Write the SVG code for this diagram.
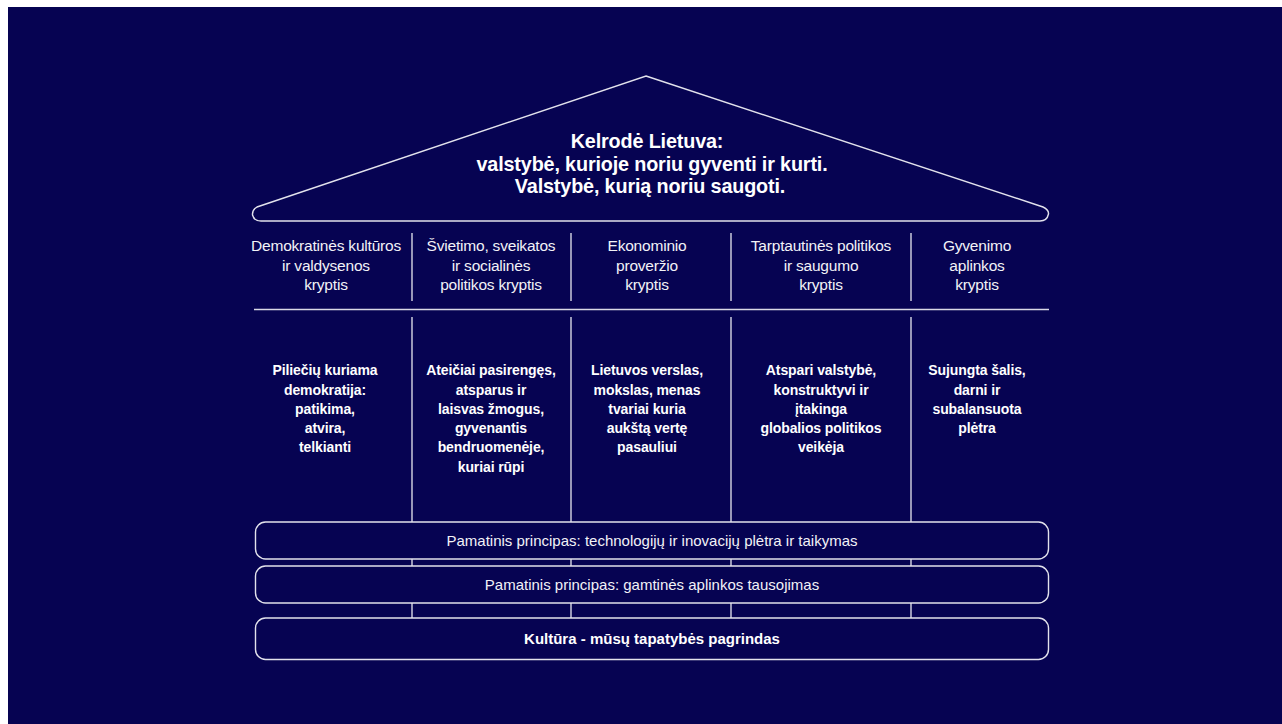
<svg xmlns="http://www.w3.org/2000/svg" width="1282" height="724" viewBox="0 0 1282 724">
<style>
.ln{stroke:#d9d9e6;stroke-width:1.4;fill:none}
.box{stroke:#e2e2ec;stroke-width:1.4;fill:none}
.t{font-family:"Liberation Sans",Arial,sans-serif;fill:#ffffff;text-anchor:middle}
.title{font-size:19.8px;font-weight:bold;letter-spacing:-0.15px}
.hd{font-size:15.5px;letter-spacing:-0.2px;fill:#f2f2f7}
.bd{font-size:14px;font-weight:bold;letter-spacing:-0.1px}
.bx{font-size:15px;fill:#f2f2f7}
.bxb{font-size:15px;font-weight:bold}
</style>
<rect x="0" y="0" width="1282" height="724" fill="#ffffff"/>
<rect x="8" y="7" width="1274" height="717" fill="#060352"/>
<g id="roof">
<path class="box" d="M646 76 L1043 207 Q1049 210 1048.5 214 Q1047 221 1040 221 L261 221 Q254 221 252.5 215 Q252 210 257 207 Z"/>
<text class="t title" x="647" y="148">Kelrodė Lietuva:</text>
<text class="t title" x="652" y="171">valstybė, kurioje noriu gyventi ir kurti.</text>
<text class="t title" x="650" y="193">Valstybė, kurią noriu saugoti.</text>
</g>
<g id="connectors">
<line class="ln" x1="412" y1="233" x2="412" y2="301"/>
<line class="ln" x1="571" y1="233" x2="571" y2="301"/>
<line class="ln" x1="731" y1="233" x2="731" y2="301"/>
<line class="ln" x1="911" y1="233" x2="911" y2="301"/>
<line class="ln" x1="254" y1="309.5" x2="1049" y2="309.5"/>
<line class="ln" x1="412" y1="317" x2="412" y2="522"/>
<line class="ln" x1="571" y1="317" x2="571" y2="522"/>
<line class="ln" x1="731" y1="317" x2="731" y2="522"/>
<line class="ln" x1="911" y1="317" x2="911" y2="522"/>
<line class="ln" x1="412" y1="559" x2="412" y2="566"/>
<line class="ln" x1="571" y1="559" x2="571" y2="566"/>
<line class="ln" x1="731" y1="559" x2="731" y2="566"/>
<line class="ln" x1="911" y1="559" x2="911" y2="566"/>
<line class="ln" x1="412" y1="603" x2="412" y2="618"/>
<line class="ln" x1="571" y1="603" x2="571" y2="618"/>
<line class="ln" x1="731" y1="603" x2="731" y2="618"/>
<line class="ln" x1="911" y1="603" x2="911" y2="618"/>
</g>
<g id="col1">
<text class="t hd" x="326" y="251">Demokratinės kultūros</text>
<text class="t hd" x="326" y="271">ir valdysenos</text>
<text class="t hd" x="326" y="290">kryptis</text>
<text class="t bd" x="325" y="375">Piliečių kuriama</text>
<text class="t bd" x="325" y="394.5">demokratija:</text>
<text class="t bd" x="325" y="414">patikima,</text>
<text class="t bd" x="325" y="433">atvira,</text>
<text class="t bd" x="325" y="452">telkianti</text>
</g>
<g id="col2">
<text class="t hd" x="491" y="251">Švietimo, sveikatos</text>
<text class="t hd" x="491" y="271">ir socialinės</text>
<text class="t hd" x="491" y="290">politikos kryptis</text>
<text class="t bd" x="491" y="375">Ateičiai pasirengęs,</text>
<text class="t bd" x="491" y="394.5">atsparus ir</text>
<text class="t bd" x="491" y="414">laisvas žmogus,</text>
<text class="t bd" x="491" y="433">gyvenantis</text>
<text class="t bd" x="491" y="452">bendruomenėje,</text>
<text class="t bd" x="491" y="471.5">kuriai rūpi</text>
</g>
<g id="col3">
<text class="t hd" x="647" y="251">Ekonominio</text>
<text class="t hd" x="647" y="271">proveržio</text>
<text class="t hd" x="647" y="290">kryptis</text>
<text class="t bd" x="647" y="375">Lietuvos verslas,</text>
<text class="t bd" x="647" y="394.5">mokslas, menas</text>
<text class="t bd" x="647" y="414">tvariai kuria</text>
<text class="t bd" x="647" y="433">aukštą vertę</text>
<text class="t bd" x="647" y="452">pasauliui</text>
</g>
<g id="col4">
<text class="t hd" x="821" y="251">Tarptautinės politikos</text>
<text class="t hd" x="821" y="271">ir saugumo</text>
<text class="t hd" x="821" y="290">kryptis</text>
<text class="t bd" x="821" y="375">Atspari valstybė,</text>
<text class="t bd" x="821" y="394.5">konstruktyvi ir</text>
<text class="t bd" x="821" y="414">įtakinga</text>
<text class="t bd" x="821" y="433">globalios politikos</text>
<text class="t bd" x="821" y="452">veikėja</text>
</g>
<g id="col5">
<text class="t hd" x="977" y="251">Gyvenimo</text>
<text class="t hd" x="977" y="271">aplinkos</text>
<text class="t hd" x="977" y="290">kryptis</text>
<text class="t bd" x="977" y="375">Sujungta šalis,</text>
<text class="t bd" x="977" y="394.5">darni ir</text>
<text class="t bd" x="977" y="414">subalansuota</text>
<text class="t bd" x="977" y="433">plėtra</text>
</g>
<g id="base1">
<rect class="box" x="255.5" y="522" width="793" height="37" rx="10"/>
<text class="t bx" x="652" y="545.5">Pamatinis principas: technologijų ir inovacijų plėtra ir taikymas</text>
</g>
<g id="base2">
<rect class="box" x="255.5" y="566" width="793" height="37" rx="10"/>
<text class="t bx" x="652" y="589.5">Pamatinis principas: gamtinės aplinkos tausojimas</text>
</g>
<g id="base3">
<rect class="box" x="255.5" y="618" width="793" height="41.5" rx="10"/>
<text class="t bxb" x="652" y="644">Kultūra - mūsų tapatybės pagrindas</text>
</g>
</svg>
